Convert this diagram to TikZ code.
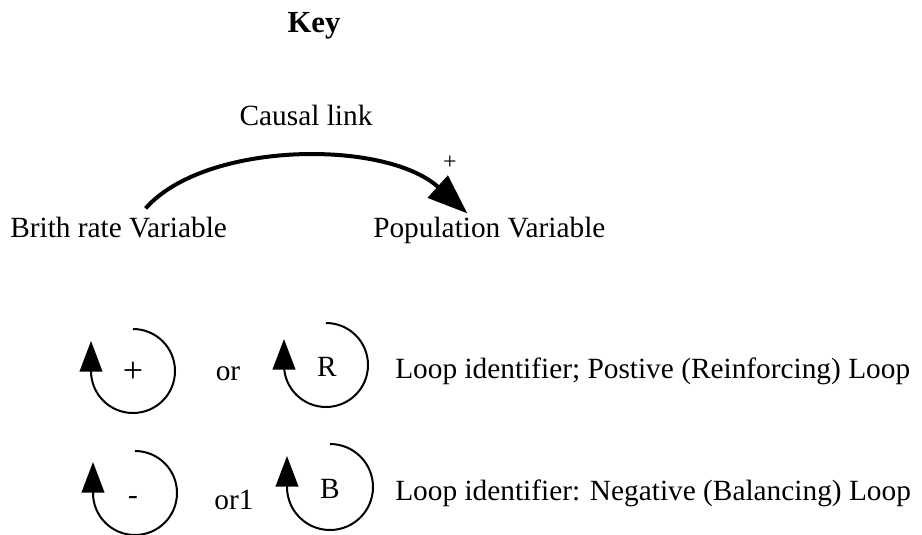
\documentclass[tikz,border=0pt]{standalone}
\usepackage{fontspec}
\setmainfont{Liberation Serif}
\usetikzlibrary{arrows.meta,calc}
\begin{document}
\begin{tikzpicture}[x=0.75pt,y=-0.75pt,
  txt/.style={font=\fontsize{22}{26}\selectfont, inner sep=0pt, anchor=base},
  title/.style={txt, font=\fontsize{23}{27}\selectfont\bfseries},
  bigsign/.style={txt, font=\fontsize{27}{30}\selectfont},
  linksign/.style={font=\fontsize{18}{20}\selectfont, inner sep=0pt, anchor=center},
  link/.style={line width=3pt, -{Triangle[length=30pt,width=22pt]}},
  loopline/.style={line width=1.5pt, -{Triangle[length=23pt,width=17pt]}}
]
\useasboundingbox (0,0) rectangle (922,535);

% heading
\node[title] (key) at (314,33) {Key};

% causal link legend
\node[txt] (causal) at (306,126) {Causal link};
\node[txt, anchor=base west] (brith) at (10,238) {Brith rate Variable};
\node[txt, anchor=base west] (pop) at (373,238) {Population Variable};
\draw[link] ($(brith.north)+(27,-9)$)
  .. controls (205,141) and (385,139) .. ($(pop.north)+(-22,-4)$);
\node[linksign] (plus) at (450,163) {+};

% loop identifiers: centres of the circular arrows
\coordinate (pA) at (133,371);
\coordinate (pR) at (326,365);
\coordinate (nA) at (135,493);
\coordinate (nB) at (330,487);

\draw[loopline] ($(pA)+(0,-42)$) arc[start angle=-90, end angle=180, radius=42] -- ++(0,-30);
\draw[loopline] ($(pR)+(0,-42)$) arc[start angle=-90, end angle=180, radius=42] -- ++(0,-26);
\draw[loopline] ($(nA)+(0,-42)$) arc[start angle=-90, end angle=180, radius=42] -- ++(0,-31);
\draw[loopline] ($(nB)+(0,-43)$) arc[start angle=-90, end angle=180, radius=43] -- ++(0,-31);

% positive loop row
\node[bigsign] (posign) at (133,382) {+};
\node[txt] (or1) at (228,380) {or};
\node[txt] (rsign) at (327,376) {R};
\node[txt, anchor=base west] (rlabel) at (395,378) {Loop identifier; Postive (Reinforcing) Loop};

% negative loop row
\node[txt] (negsign) at (133,504) {-};
\node[txt] (or2) at (234,509) {or1};
\node[txt] (bsign) at (330,498) {B};
\node[txt, anchor=base west] (blabel) at (395,500) {Loop identifier: Negative (Balancing) Loop};
\end{tikzpicture}
\end{document}
